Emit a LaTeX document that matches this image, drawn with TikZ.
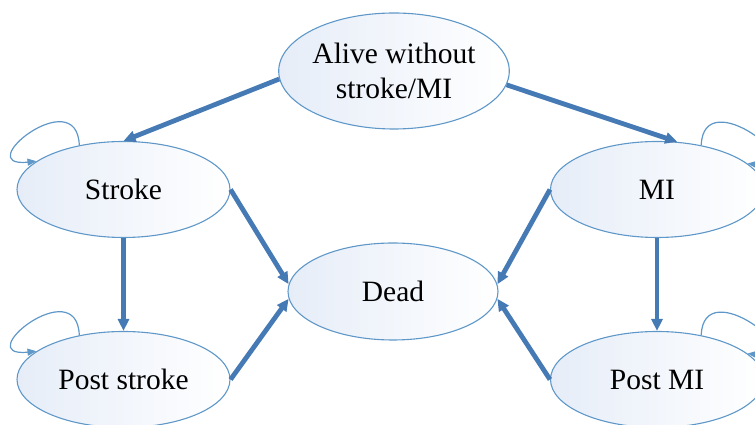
\documentclass[tikz,border=0pt]{standalone}
\usepackage{fontspec}
\setmainfont{Liberation Serif}
\usetikzlibrary{shapes.geometric,arrows.meta}
\definecolor{arrowblue}{RGB}{70,122,180}
\definecolor{edgeblue}{RGB}{95,152,200}
\definecolor{fillblue}{RGB}{230,237,248}
\begin{document}
\begin{tikzpicture}[x=1pt,y=1pt,
  state/.style={ellipse, draw=edgeblue, line width=1.1pt, left color=fillblue, right color=white,
    inner sep=0pt, minimum width=213pt, minimum height=96pt,
    font=\fontsize{29.5}{35}\selectfont, align=center},
  flow/.style={draw=arrowblue, line width=4.8pt, -{Triangle[length=12pt,width=11pt]}},
  selfloop/.style={draw=edgeblue, line width=1.2pt, -{Triangle[length=9pt,width=7pt]}}]
\useasboundingbox (0,0) rectangle (755,425);
\clip (0,0) rectangle (755,425);

\node[state, minimum width=212pt, minimum height=116pt] (alive) at (394,354) {Alive without\\stroke/MI};
\node[state] (stroke) at (123.5,235.5) {Stroke};
\node[state] (mi) at (657,235.5) {MI};
\node[state, minimum width=210pt, minimum height=97pt] (dead) at (393,133.5) {Dead};
\node[state] (pstroke) at (123.5,45.5) {Post stroke};
\node[state] (pmi) at (657,45.5) {Post MI};

\draw[flow] (alive.184) -- (stroke.north);
\draw[flow] (alive.353.5) -- (mi.67);
\draw[flow] (stroke.east) -- (dead.176);
\draw[flow] (pstroke.east) -- (dead.184);
\draw[flow] (mi.west) -- (dead.4);
\draw[flow] (pmi.west) -- (dead.356);
\draw[flow] (stroke.south) -- (pstroke.north);
\draw[flow] (mi.south) -- (pmi.north);

\draw[selfloop] (stroke.135) to[out=92,in=186,out distance=64pt,in distance=68pt] (stroke.162);
\draw[selfloop] (pstroke.135) to[out=92,in=186,out distance=64pt,in distance=68pt] (pstroke.162);
\draw[selfloop] (mi.45) to[out=88,in=-6,out distance=64pt,in distance=68pt] (mi.16);
\draw[selfloop] (pmi.45) to[out=88,in=-6,out distance=64pt,in distance=68pt] (pmi.16);
\end{tikzpicture}
\end{document}
